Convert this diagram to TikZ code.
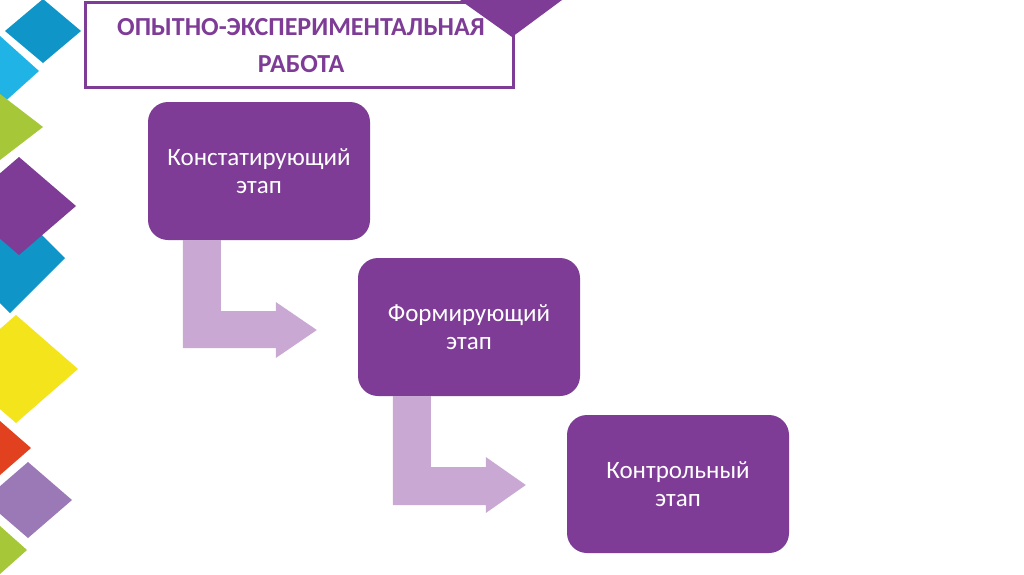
\documentclass[tikz,border=0pt]{standalone}
\usepackage{fontspec}
\setmainfont{Carlito}
\usetikzlibrary{calc}
\definecolor{dpurple}{HTML}{7E3C96}
\definecolor{lavarrow}{HTML}{C9A9D3}
\definecolor{dblue}{HTML}{0F95C7}
\definecolor{cyanb}{HTML}{1FB4E5}
\definecolor{lgreen}{HTML}{A6C838}
\definecolor{yel}{HTML}{F3E41C}
\definecolor{redd}{HTML}{E2411F}
\definecolor{lilac}{HTML}{9B79B7}
\tikzset{
  stagebox/.style={fill=dpurple, rounded corners=20pt, minimum width=222pt, minimum height=138pt,
    text=white, align=center, inner sep=0pt, font=\fontsize{25}{28}\selectfont},
  bentarrow/.style={fill=lavarrow},
  titlebox/.style={draw=dpurple, line width=3pt, minimum width=428pt, minimum height=85pt,
    inner sep=0pt},
  titletext/.style={text=dpurple, align=center, font=\bfseries\fontsize{26}{37}\selectfont}
}
\begin{document}
\begin{tikzpicture}[x=1pt,y=-1pt]
\useasboundingbox (0,0) rectangle (1024,574);
\fill[white] (0,0) rectangle (1024,574);
% left decoration diamonds
\fill[dblue, shift={(43,31)}] (-38,0)--(0,-32)--(38,0)--(0,32)--cycle;
\fill[cyanb, shift={(0,71)}] (-39,0)--(0,-35)--(39,0)--(0,35)--cycle;
\fill[lgreen, shift={(0,127)}] (-43,0)--(0,-33)--(43,0)--(0,33)--cycle;
\fill[dblue, shift={(10,258)}] (-55,0)--(0,-55)--(55,0)--(0,55)--cycle;
\fill[dpurple, shift={(19,206)}] (-57,0)--(0,-49)--(57,0)--(0,49)--cycle;
\fill[yel, shift={(16,369)}] (-62,0)--(0,-54)--(62,0)--(0,54)--cycle;
\fill[redd, shift={(0,448)}] (-31,0)--(0,-27)--(31,0)--(0,27)--cycle;
\fill[lilac, shift={(28,500)}] (-44,0)--(0,-38)--(44,0)--(0,38)--cycle;
\fill[lgreen, shift={(0,550)}] (-27,0)--(0,-24)--(27,0)--(0,24)--cycle;
% title
\node[titlebox] (title) at (299,44.5) {};
\fill[dpurple] (460,0) -- (562,0) -- (512,37) -- cycle;
\node[titletext] (titletxt) at (301,45.5) {ОПЫТНО-ЭКСПЕРИМЕНТАЛЬНАЯ\\РАБОТА};
% stage boxes
\node[stagebox] (b1) at (259,171) {Констатирующий\\этап};
\node[stagebox] (b2) at (469,327) {Формирующий\\этап};
\node[stagebox] (b3) at (678,484) {Контрольный\\этап};
% bent arrows
\fill[bentarrow] ($(b1.south west)+(35,0)$) -- ($(b1.south west)+(73,0)$)
  |- ($(b2.west)+(-82,-16)$) -- ($(b2.west)+(-82,-25)$) -- ($(b2.west)+(-41,3)$)
  -- ($(b2.west)+(-82,31)$) -- ($(b2.west)+(-82,21)$) -| cycle;
\fill[bentarrow] ($(b2.south west)+(35,0)$) -- ($(b2.south west)+(73,0)$)
  |- ($(b3.west)+(-81,-17)$) -- ($(b3.west)+(-81,-27)$) -- ($(b3.west)+(-41,1)$)
  -- ($(b3.west)+(-81,29)$) -- ($(b3.west)+(-81,21)$) -| cycle;
\end{tikzpicture}
\end{document}
